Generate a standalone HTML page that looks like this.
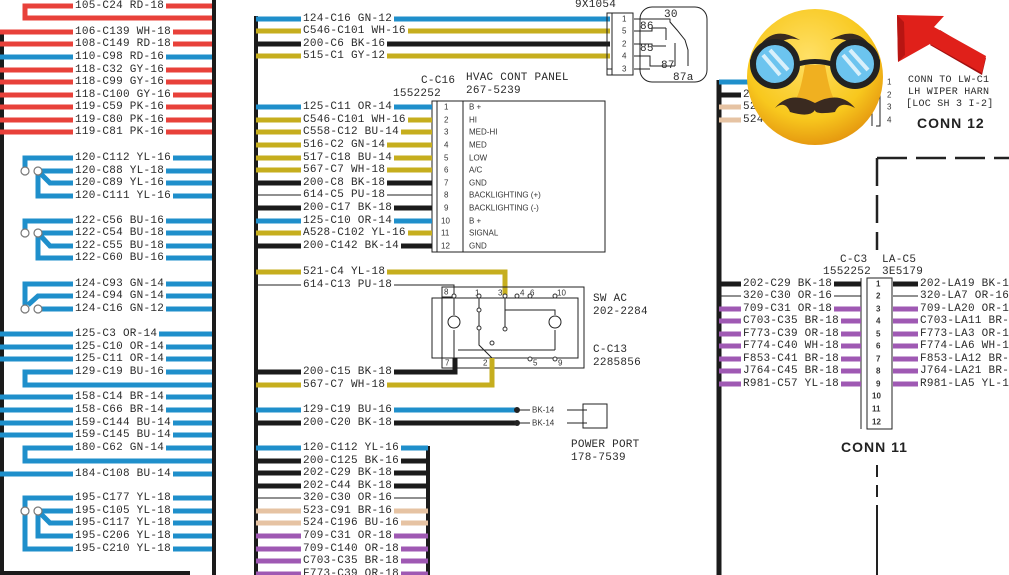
<!DOCTYPE html>
<html><head><meta charset="utf-8"><style>
html,body{margin:0;padding:0;background:#fff}
#w{position:relative;width:1009px;height:575px;overflow:hidden}
svg{display:block;position:absolute;left:0;top:0}
.w{position:absolute;font:11px "Liberation Mono",monospace;letter-spacing:.25px;background:#fff;color:#2a2a2a;line-height:12px;padding:0 2px;white-space:pre;transform:translate(-2px,-6px)}
.s{font-family:"Liberation Sans",sans-serif;font-size:8px;fill:#333;dominant-baseline:central}
.m{font-family:"Liberation Mono",monospace;font-size:11px;fill:#2a2a2a;letter-spacing:0.25px}
.b{font-family:"Liberation Sans",sans-serif;font-size:14px;font-weight:bold;fill:#222;letter-spacing:1px}
.r{stroke:#e8413a;stroke-width:5;fill:none}
.u{stroke:#1f8fcb;stroke-width:5;fill:none}
.y{stroke:#c6ae1e;stroke-width:5;fill:none}
.k{stroke:#1b1b1b;stroke-width:5;fill:none}
.n{stroke:#e6c3a3;stroke-width:5;fill:none}
.p{stroke:#9f59b3;stroke-width:5;fill:none}
.l{stroke:#222;stroke-width:1;fill:none}
.c{fill:#fff;stroke:#777;stroke-width:1.2}
</style></head><body><div id="w">
<svg width="1009" height="575" viewBox="0 0 1009 575" xmlns="http://www.w3.org/2000/svg">
<line x1="2" y1="30" x2="2" y2="575" stroke="#1b1b1b" stroke-width="4"/>
<line x1="214" y1="0" x2="214" y2="575" stroke="#1b1b1b" stroke-width="4"/>
<line x1="0" y1="573" x2="190" y2="573" stroke="#1b1b1b" stroke-width="4"/>
<path class="r" d="M212 6H25V18H212"/>
<path class="r" d="M0 32H212M0 44H212M0 70H212M0 82H212M0 95H212M0 107H212M0 120H212M0 132H212"/>
<path class="u" d="M0 57H212"/>
<path class="u" d="M212 158H25V171M38 171H212M38 171L50 183H212M38 171V196H212"/>
<circle class="c" cx="25" cy="171" r="4"/><circle class="c" cx="38" cy="171" r="4"/>
<path class="u" d="M212 221H25V233M38 233H212M38 233L50 246H212M38 233V258H212"/>
<circle class="c" cx="25" cy="233" r="4"/><circle class="c" cx="38" cy="233" r="4"/>
<path class="u" d="M212 284H25V309M28 305L38 296H212M38 309H212"/>
<circle class="c" cx="25" cy="309" r="4"/><circle class="c" cx="38" cy="309" r="4"/>
<path class="u" d="M0 334H212M0 347H212M0 359H212M212 372H25V385H212"/>
<path class="u" d="M0 397H212M0 410H212M0 423H212M0 435H212M212 448H25V461H212M0 474H212"/>
<path class="u" d="M212 498H25V549H212M38 511H212M38 511L50 523H212M38 511V536H212"/>
<circle class="c" cx="25" cy="511" r="4"/><circle class="c" cx="38" cy="511" r="4"/>

<line x1="256" y1="16" x2="256" y2="575" stroke="#1b1b1b" stroke-width="4"/>
<path class="u" d="M256 19H610"/><path class="y" d="M256 31H610"/><path class="k" d="M256 44H610"/><path class="y" d="M256 56H610"/>
<text class="m" x="575" y="7">9X1054</text>
<path class="l" d="M607 13H633V75H607Z M612 13V75"/>
<g class="s"><text x="622" y="19">1</text><text x="622" y="31">5</text><text x="622" y="44">2</text><text x="622" y="56">4</text><text x="622" y="69">3</text></g>
<path class="l" d="M607 69H612"/>
<rect x="640" y="7" width="67" height="75" rx="12" class="l"/>
<path class="l" d="M634 19H670V22L677 30L685 40L688 50V57M634 31H652V28H666M666 28V40M634 44H652V46H666M634 56H650V66H675M675 43V66M634 69H650M688 57V66"/>
<g class="m"><text x="664" y="17">30</text><text x="640" y="29">86</text><text x="640" y="51">85</text><text x="661" y="68">87</text><text x="673" y="80">87a</text></g>
<text class="m" x="421" y="83">C-C16</text><text class="m" x="393" y="96">1552252</text>
<text class="m" x="466" y="80">HVAC CONT PANEL</text><text class="m" x="466" y="93">267-5239</text>
<rect x="432" y="101" width="173" height="151" class="l"/>
<path class="l" d="M437 101V252M463 101V252"/>
<path class="u" d="M256 107H432M256 221H432"/>
<path class="y" d="M256 120H432M256 132H432M256 145H432M256 158H432M256 170H432M256 233H432"/>
<path class="k" d="M256 183H432M256 208H432M256 246H432"/>
<path class="l" d="M256 195H432"/>
<g class="s">
<text x="444" y="107">1</text><text x="444" y="120">2</text><text x="444" y="132">3</text><text x="444" y="145">4</text><text x="444" y="158">5</text><text x="444" y="170">6</text><text x="444" y="183">7</text><text x="444" y="195">8</text><text x="444" y="208">9</text><text x="441" y="221">10</text><text x="441" y="233">11</text><text x="441" y="246">12</text>
<text x="469" y="107">B +</text><text x="469" y="120">HI</text><text x="469" y="132">MED-HI</text><text x="469" y="145">MED</text><text x="469" y="158">LOW</text><text x="469" y="170">A/C</text><text x="469" y="183">GND</text><text x="469" y="195">BACKLIGHTING (+)</text><text x="469" y="208">BACKLIGHTING (-)</text><text x="469" y="221">B +</text><text x="469" y="233">SIGNAL</text><text x="469" y="246">GND</text>
</g>
<path class="y" d="M256 272H505V296"/>
<path class="l" d="M256 285H454V296"/>
<rect x="442" y="287" width="142" height="81" class="l"/>
<rect x="432" y="298" width="146" height="60" class="l"/>
<rect x="442" y="287" width="12" height="10" class="l"/><rect x="442" y="358" width="13" height="10" class="l"/>
<path class="l" d="M454 296V315M454 330V358M479 298V345L492 358M505 298V330M505 310H555V315M555 330V350M458 350H555"/>
<circle cx="454" cy="322" r="6" class="l"/><circle cx="555" cy="322" r="6" class="l"/>
<g class="s"><text x="444" y="292">8</text><text x="475" y="293">1</text><text x="498" y="293">3</text><text x="520" y="293">4</text><text x="530" y="293">6</text><text x="557" y="293">10</text><text x="445" y="363">7</text><text x="483" y="363">2</text><text x="533" y="363">5</text><text x="558" y="363">9</text></g>
<g fill="#fff" stroke="#333" stroke-width="1"><circle cx="454" cy="296" r="2"/><circle cx="479" cy="296" r="2"/><circle cx="505" cy="296" r="2"/><circle cx="517" cy="296" r="2"/><circle cx="530" cy="296" r="2"/><circle cx="555" cy="296" r="2"/><circle cx="479" cy="310" r="2"/><circle cx="505" cy="329" r="2"/><circle cx="479" cy="328" r="2"/><circle cx="492" cy="343" r="2"/><circle cx="530" cy="359" r="2"/><circle cx="555" cy="359" r="2"/></g>
<text class="m" x="593" y="301">SW AC</text><text class="m" x="593" y="314">202-2284</text>
<text class="m" x="593" y="352">C-C13</text><text class="m" x="593" y="365">2285856</text>
<path class="k" d="M256 372H455V358"/>
<path class="y" d="M256 385H492V358"/>
<path class="u" d="M256 410H517"/><path class="k" d="M256 423H517"/>
<circle cx="517" cy="410" r="3" fill="#222"/><circle cx="517" cy="423" r="3" fill="#222"/>
<path class="l" d="M517 410H530M517 423H530M567 410H587M567 423H587"/>
<g class="s"><text x="532" y="410">BK-14</text><text x="532" y="423">BK-14</text></g>
<rect x="583" y="404" width="24" height="24" class="l"/>
<text class="m" x="571" y="447">POWER PORT</text><text class="m" x="571" y="460">178-7539</text>
<line x1="428" y1="446" x2="428" y2="575" stroke="#1b1b1b" stroke-width="4"/>
<path class="u" d="M256 448H428"/>
<path class="k" d="M256 461H428M256 473H428M256 486H428"/>
<path class="l" d="M256 498H428"/>
<path class="n" d="M256 511H428M256 523H428"/>
<path class="p" d="M256 536H428M256 549H428M256 561H428M256 574H428"/>

<line x1="719" y1="80" x2="719" y2="575" stroke="#1b1b1b" stroke-width="5"/>
<path class="u" d="M719 82H760"/><path class="k" d="M719 95H760"/><path class="n" d="M719 107H760M719 120H760"/>
<path class="l" d="M872 76V126M876 76H880V126H876"/>
<g class="s"><text x="887" y="82">1</text><text x="887" y="95">2</text><text x="887" y="107">3</text><text x="887" y="120">4</text></g>
<polygon points="930,45 982,75 986,58 940,30" fill="#a01010"/>
<polygon points="897,15 944,16 934,27 986,56 982,73 930,44 898,62" fill="#e0201a"/>
<polygon points="897,15 898,62 905,55 904,22" fill="#b81512"/>
<text class="m" x="908" y="82" style="font-size:10px">CONN TO LW-C1</text>
<text class="m" x="908" y="94" style="font-size:10px">LH WIPER HARN</text>
<text class="m" x="906" y="106" style="font-size:10px">[LOC SH 3 I-2]</text>
<text class="b" x="917" y="128">CONN 12</text>
<path d="M877 158H1009" stroke="#222" stroke-width="2.5" stroke-dasharray="30 9" fill="none"/>
<path d="M877 158V250" stroke="#222" stroke-width="2.5" stroke-dasharray="28 9" fill="none"/>
<path d="M877 465V575" stroke="#222" stroke-width="2" stroke-dasharray="12 8 12 8 200" fill="none"/>
<text class="m" x="840" y="262">C-C3</text><text class="m" x="823" y="274">1552252</text>
<text class="m" x="882" y="262">LA-C5</text><text class="m" x="882" y="274">3E5179</text>
<path class="l" d="M861 278V429M867 278H892V429H867Z"/>
<path class="k" d="M719 284H861M893 284H1009"/>
<path class="l" d="M719 296H861M893 296H1009"/>
<path class="p" d="M719 309H861M719 321H861M719 334H861M719 346H861M719 359H861M719 371H861M719 384H861M893 309H1009M893 321H1009M893 334H1009M893 346H1009M893 359H1009M893 371H1009M893 384H1009"/>
<g class="s" style="font-weight:bold"><text x="876" y="284">1</text><text x="876" y="296">2</text><text x="876" y="309">3</text><text x="876" y="321">4</text><text x="876" y="334">5</text><text x="876" y="346">6</text><text x="876" y="359">7</text><text x="876" y="371">8</text><text x="876" y="384">9</text><text x="872" y="396">10</text><text x="872" y="409">11</text><text x="872" y="422">12</text></g>
<text class="b" x="841" y="452">CONN 11</text>
</svg>

<div class="w" style="left:75px;top:6px">105-C24 RD-18</div>
<div class="w" style="left:75px;top:32px">106-C139 WH-18</div>
<div class="w" style="left:75px;top:44px">108-C149 RD-18</div>
<div class="w" style="left:75px;top:57px">110-C98 RD-16</div>
<div class="w" style="left:75px;top:70px">118-C32 GY-16</div>
<div class="w" style="left:75px;top:82px">118-C99 GY-16</div>
<div class="w" style="left:75px;top:95px">118-C100 GY-16</div>
<div class="w" style="left:75px;top:107px">119-C59 PK-16</div>
<div class="w" style="left:75px;top:120px">119-C80 PK-16</div>
<div class="w" style="left:75px;top:132px">119-C81 PK-16</div>
<div class="w" style="left:75px;top:158px">120-C112 YL-16</div>
<div class="w" style="left:75px;top:171px">120-C88 YL-18</div>
<div class="w" style="left:75px;top:183px">120-C89 YL-16</div>
<div class="w" style="left:75px;top:196px">120-C111 YL-16</div>
<div class="w" style="left:75px;top:221px">122-C56 BU-16</div>
<div class="w" style="left:75px;top:233px">122-C54 BU-18</div>
<div class="w" style="left:75px;top:246px">122-C55 BU-18</div>
<div class="w" style="left:75px;top:258px">122-C60 BU-16</div>
<div class="w" style="left:75px;top:284px">124-C93 GN-14</div>
<div class="w" style="left:75px;top:296px">124-C94 GN-14</div>
<div class="w" style="left:75px;top:309px">124-C16 GN-12</div>
<div class="w" style="left:75px;top:334px">125-C3 OR-14</div>
<div class="w" style="left:75px;top:347px">125-C10 OR-14</div>
<div class="w" style="left:75px;top:359px">125-C11 OR-14</div>
<div class="w" style="left:75px;top:372px">129-C19 BU-16</div>
<div class="w" style="left:75px;top:397px">158-C14 BR-14</div>
<div class="w" style="left:75px;top:410px">158-C66 BR-14</div>
<div class="w" style="left:75px;top:423px">159-C144 BU-14</div>
<div class="w" style="left:75px;top:435px">159-C145 BU-14</div>
<div class="w" style="left:75px;top:448px">180-C62 GN-14</div>
<div class="w" style="left:75px;top:474px">184-C108 BU-14</div>
<div class="w" style="left:75px;top:498px">195-C177 YL-18</div>
<div class="w" style="left:75px;top:511px">195-C105 YL-18</div>
<div class="w" style="left:75px;top:523px">195-C117 YL-18</div>
<div class="w" style="left:75px;top:536px">195-C206 YL-18</div>
<div class="w" style="left:75px;top:549px">195-C210 YL-18</div>

<div class="w" style="left:303px;top:19px">124-C16 GN-12</div>
<div class="w" style="left:303px;top:31px">C546-C101 WH-16</div>
<div class="w" style="left:303px;top:44px">200-C6 BK-16</div>
<div class="w" style="left:303px;top:56px">515-C1 GY-12</div>
<div class="w" style="left:303px;top:107px">125-C11 OR-14</div>
<div class="w" style="left:303px;top:120px">C546-C101 WH-16</div>
<div class="w" style="left:303px;top:132px">C558-C12 BU-14</div>
<div class="w" style="left:303px;top:145px">516-C2 GN-14</div>
<div class="w" style="left:303px;top:158px">517-C18 BU-14</div>
<div class="w" style="left:303px;top:170px">567-C7 WH-18</div>
<div class="w" style="left:303px;top:183px">200-C8 BK-18</div>
<div class="w" style="left:303px;top:195px">614-C5 PU-18</div>
<div class="w" style="left:303px;top:208px">200-C17 BK-18</div>
<div class="w" style="left:303px;top:221px">125-C10 OR-14</div>
<div class="w" style="left:303px;top:233px">A528-C102 YL-16</div>
<div class="w" style="left:303px;top:246px">200-C142 BK-14</div>
<div class="w" style="left:303px;top:272px">521-C4 YL-18</div>
<div class="w" style="left:303px;top:285px">614-C13 PU-18</div>
<div class="w" style="left:303px;top:372px">200-C15 BK-18</div>
<div class="w" style="left:303px;top:385px">567-C7 WH-18</div>
<div class="w" style="left:303px;top:410px">129-C19 BU-16</div>
<div class="w" style="left:303px;top:423px">200-C20 BK-18</div>
<div class="w" style="left:303px;top:448px">120-C112 YL-16</div>
<div class="w" style="left:303px;top:461px">200-C125 BK-16</div>
<div class="w" style="left:303px;top:473px">202-C29 BK-18</div>
<div class="w" style="left:303px;top:486px">202-C44 BK-18</div>
<div class="w" style="left:303px;top:498px">320-C30 OR-16</div>
<div class="w" style="left:303px;top:511px">523-C91 BR-16</div>
<div class="w" style="left:303px;top:523px">524-C196 BU-16</div>
<div class="w" style="left:303px;top:536px">709-C31 OR-18</div>
<div class="w" style="left:303px;top:549px">709-C140 OR-18</div>
<div class="w" style="left:303px;top:561px">C703-C35 BR-18</div>
<div class="w" style="left:303px;top:574px">F773-C39 OR-18</div>

<div class="w" style="left:743px;top:95px">2</div>
<div class="w" style="left:743px;top:107px">52</div>
<div class="w" style="left:743px;top:120px">524</div>

<div class="w" style="left:743px;top:284px">202-C29 BK-18</div>
<div class="w" style="left:743px;top:296px">320-C30 OR-16</div>
<div class="w" style="left:743px;top:309px">709-C31 OR-18</div>
<div class="w" style="left:743px;top:321px">C703-C35 BR-18</div>
<div class="w" style="left:743px;top:334px">F773-C39 OR-18</div>
<div class="w" style="left:743px;top:346px">F774-C40 WH-18</div>
<div class="w" style="left:743px;top:359px">F853-C41 BR-18</div>
<div class="w" style="left:743px;top:371px">J764-C45 BR-18</div>
<div class="w" style="left:743px;top:384px">R981-C57 YL-18</div>
<div class="w" style="left:920px;top:284px">202-LA19 BK-18</div>
<div class="w" style="left:920px;top:296px">320-LA7 OR-16</div>
<div class="w" style="left:920px;top:309px">709-LA20 OR-18</div>
<div class="w" style="left:920px;top:321px">C703-LA11 BR-18</div>
<div class="w" style="left:920px;top:334px">F773-LA3 OR-18</div>
<div class="w" style="left:920px;top:346px">F774-LA6 WH-18</div>
<div class="w" style="left:920px;top:359px">F853-LA12 BR-18</div>
<div class="w" style="left:920px;top:371px">J764-LA21 BR-18</div>
<div class="w" style="left:920px;top:384px">R981-LA5 YL-18</div>

<svg width="1009" height="575" viewBox="0 0 1009 575" xmlns="http://www.w3.org/2000/svg">
<defs><radialGradient id="g" cx="45%" cy="35%" r="65%"><stop offset="0" stop-color="#ffe066"/><stop offset="0.7" stop-color="#f8c81e"/><stop offset="1" stop-color="#e69a10"/></radialGradient></defs>
<circle cx="815" cy="77" r="68" fill="url(#g)"/>
<path d="M760 45Q775 25 800 40Q785 35 770 50Z M870 45Q855 25 830 40Q845 35 860 50Z" fill="#3a2a20"/>
<path d="M795 65Q815 58 835 65" stroke="#222" stroke-width="5" fill="none"/>
<circle cx="775" cy="64" r="22" fill="#6cc4ef" stroke="#222" stroke-width="6"/>
<circle cx="855" cy="64" r="22" fill="#6cc4ef" stroke="#222" stroke-width="6"/>
<path d="M763 55L780 75M770 50L788 70M843 55L860 75M850 50L868 70" stroke="#d8f0fb" stroke-width="4"/>
<path d="M750 62H753M877 62H880" stroke="#222" stroke-width="5"/>
<path d="M805 65Q800 95 795 100Q815 110 835 100Q830 95 825 65Z" fill="#f0b020"/>
<path d="M775 108Q790 90 815 103Q840 90 855 108Q840 100 835 112Q815 115 815 110Q810 118 790 112Q785 100 775 108Z" fill="#3a2a20"/>
</svg>
</div></body></html>
